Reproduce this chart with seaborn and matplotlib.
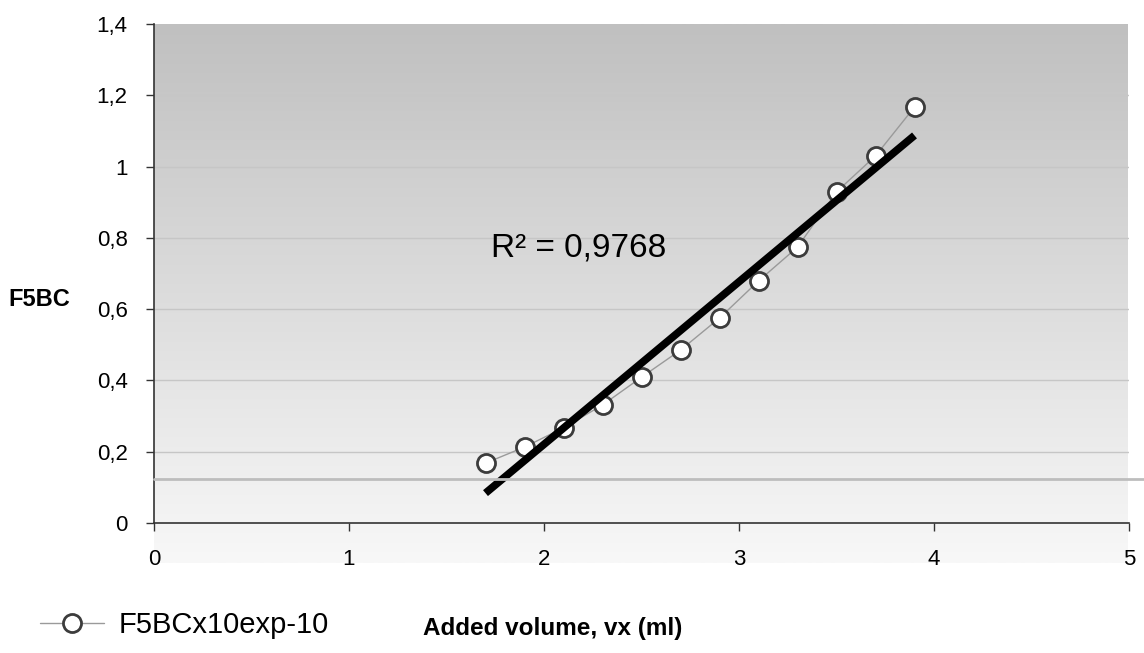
import numpy as np
import pandas as pd
import matplotlib
matplotlib.use("Agg")
import matplotlib.pyplot as plt
import seaborn as sns
from matplotlib.lines import Line2D

# ---- data ----
volume_ml = [1.7, 1.9, 2.1, 2.3, 2.5, 2.7, 2.9, 3.1, 3.3, 3.5, 3.7, 3.9]
f5bc = [0.168, 0.213, 0.267, 0.331, 0.409, 0.485, 0.575, 0.679, 0.774, 0.929, 1.030, 1.167]
series_label = "F5BCx10exp-10"
r2_text = "R² = 0,9768"
x_ticks = [0, 1, 2, 3, 4, 5]
y_ticks = [0, 0.2, 0.4, 0.6, 0.8, 1.0, 1.2, 1.4]
y_tick_labels = ["0", "0,2", "0,4", "0,6", "0,8", "1", "1,2", "1,4"]
x_label = "Added volume, vx (ml)"
y_label = "F5BC"

df = pd.DataFrame({"vx": volume_ml, "F5BC": f5bc})

sns.set_theme(style="white")
plt.rcParams["font.family"] = ["Liberation Sans", "DejaVu Sans"]
plt.rcParams["text.color"] = "black"

W, H = 1144, 653
fig = plt.figure(figsize=(W / 100, H / 100), dpi=100)

# gradient background (extends below the axes like the original)
bg = fig.add_axes([154 / W, (H - 563) / H, (1128 - 154) / W, (563 - 24) / H], zorder=0)
grad = np.linspace(192, 248, 256).reshape(-1, 1) / 255.0
bg.imshow(np.dstack([grad, grad, grad]), aspect="auto", extent=[0, 1, 0, 1], origin="upper")
bg.set_axis_off()

ax = fig.add_axes([154 / W, (H - 523) / H, (1129 - 154) / W, (523 - 24) / H], zorder=1)
ax.set_facecolor("none")

sns.lineplot(data=df, x="vx", y="F5BC", ax=ax, color="#9a9a9a", linewidth=1,
             marker="o", markersize=13, markerfacecolor="white",
             markeredgecolor="#3c3c3c", markeredgewidth=2, label=series_label, zorder=3)
sns.regplot(data=df, x="vx", y="F5BC", ax=ax, scatter=False, ci=None, truncate=True,
            line_kws=dict(color="black", linewidth=5.5, solid_capstyle="butt", zorder=4))

ax.set_xlim(0, 5)
ax.set_ylim(0, 1.4)
ax.set_xticks(x_ticks)
ax.set_xticklabels([str(t) for t in x_ticks])
ax.set_yticks(y_ticks)
ax.set_yticklabels(y_tick_labels)
ax.set_xlabel("")
ax.set_ylabel("")

for yv in y_ticks[1:-1]:
    ax.axhline(yv, color="#c6c6c6", linewidth=1, zorder=1)

for s in ["top", "right"]:
    ax.spines[s].set_visible(False)
for s in ["left", "bottom"]:
    ax.spines[s].set_color("#333333")
    ax.spines[s].set_linewidth(1.2)

ax.tick_params(axis="both", which="major", direction="out", length=6, width=1,
               color="#333333", labelsize=16, labelcolor="black")
ax.tick_params(axis="x", pad=13, bottom=True)
ax.tick_params(axis="y", pad=13, left=True)

# odd grey rule extending beyond the plot
fig.add_artist(Line2D([154 / W, 1.0], [(H - 479) / H, (H - 479) / H],
                      color="#bdbdbd", linewidth=2, zorder=2))

ax.text(1.73, 0.747, r2_text, fontsize=24, ha="left", va="baseline", zorder=5)

fig.text(8 / W, (H - 300) / H, y_label, fontsize=17, fontweight="bold", ha="left", va="center")
fig.text(553 / W, (H - 628) / H, x_label, fontsize=17.5, fontweight="bold", ha="center", va="center")

ax.legend(loc="center left", bbox_to_anchor=(40 / W, (H - 625) / H), bbox_transform=fig.transFigure,
          frameon=False, fontsize=21, handlelength=2.2, handletextpad=0.5,
          borderpad=0, borderaxespad=0)

fig.savefig("out.png", dpi=100)
